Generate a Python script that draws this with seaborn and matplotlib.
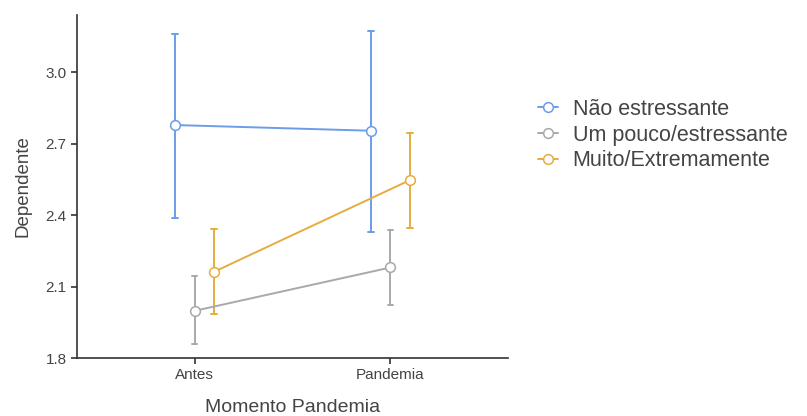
import numpy as np
import pandas as pd
import matplotlib
matplotlib.use("Agg")
import matplotlib.pyplot as plt
import seaborn as sns
from matplotlib.lines import Line2D

# values (mean and 95% CI)
moments = ["Antes", "Pandemia"]
groups = ["Não estressante", "Um pouco/estressante", "Muito/Extremamente"]
colors = ["#6B9DE8", "#A9A9A9", "#E6AC40"]

nao_mean = [2.778, 2.754]
nao_low = [2.386, 2.330]
nao_high = [3.162, 3.173]

pouco_mean = [1.998, 2.180]
pouco_low = [1.859, 2.022]
pouco_high = [2.144, 2.337]

muito_mean = [2.162, 2.547]
muito_low = [1.983, 2.347]
muito_high = [2.341, 2.743]

yticks = [1.8, 2.1, 2.4, 2.7, 3.0]

# long table: low / mean / high per cell, so median = mean and min/max = CI
rows = []
for g, m, lo, hi in zip(groups,
                        [nao_mean, pouco_mean, muito_mean],
                        [nao_low, pouco_low, muito_low],
                        [nao_high, pouco_high, muito_high]):
    for i, mom in enumerate(moments):
        for v in (lo[i], m[i], hi[i]):
            rows.append({"Momento Pandemia": mom, "grupo": g, "Dependente": v})
df = pd.DataFrame(rows)

sns.set_style("white")
plt.rcParams["font.family"] = ["Liberation Sans", "DejaVu Sans"]

fig = plt.figure(figsize=(8.07, 4.16), dpi=100)
ax = fig.add_axes([0.0954, 0.1394, 0.5341, 0.8246])

sns.pointplot(data=df, x="Momento Pandemia", y="Dependente", hue="grupo",
              hue_order=groups, order=moments, palette=colors,
              estimator="median", errorbar=lambda v: (v.min(), v.max()),
              dodge=0.2, capsize=0.03, linewidth=1.4,
              markers="o", markersize=7, markerfacecolor="white",
              markeredgewidth=1.1, err_kws={"linewidth": 1.4, "zorder": 1.5},
              legend=False, ax=ax)

ax.set_xlim(-0.6, 1.6)
ax.set_ylim(1.8, 3.24)
ax.set_yticks(yticks)
ax.set_yticklabels([f"{t:.1f}" for t in yticks])

for s in ["top", "right"]:
    ax.spines[s].set_visible(False)
for s in ["left", "bottom"]:
    ax.spines[s].set_color("#333333")
    ax.spines[s].set_linewidth(1.2)
ax.tick_params(axis="both", direction="out", length=4, width=1.2,
               color="#333333", labelcolor="#444444", labelsize=11, left=True, bottom=True)
ax.set_xlabel("Momento Pandemia", fontsize=14, color="#444444", labelpad=12)
ax.set_ylabel("Dependente", fontsize=13.5, color="#444444", labelpad=10)

handles = [Line2D([0], [0], color=c, marker="o", markersize=7, markerfacecolor="white",
                  markeredgewidth=1.1, linewidth=1.4) for c in colors]
ax.legend(handles, groups, loc="center left", bbox_to_anchor=(1.025, 0.65),
          frameon=False, fontsize=15.5, handlelength=0.92, handletextpad=0.68,
          labelspacing=0.23, labelcolor="#444444")

fig.savefig("out.png", dpi=100)
